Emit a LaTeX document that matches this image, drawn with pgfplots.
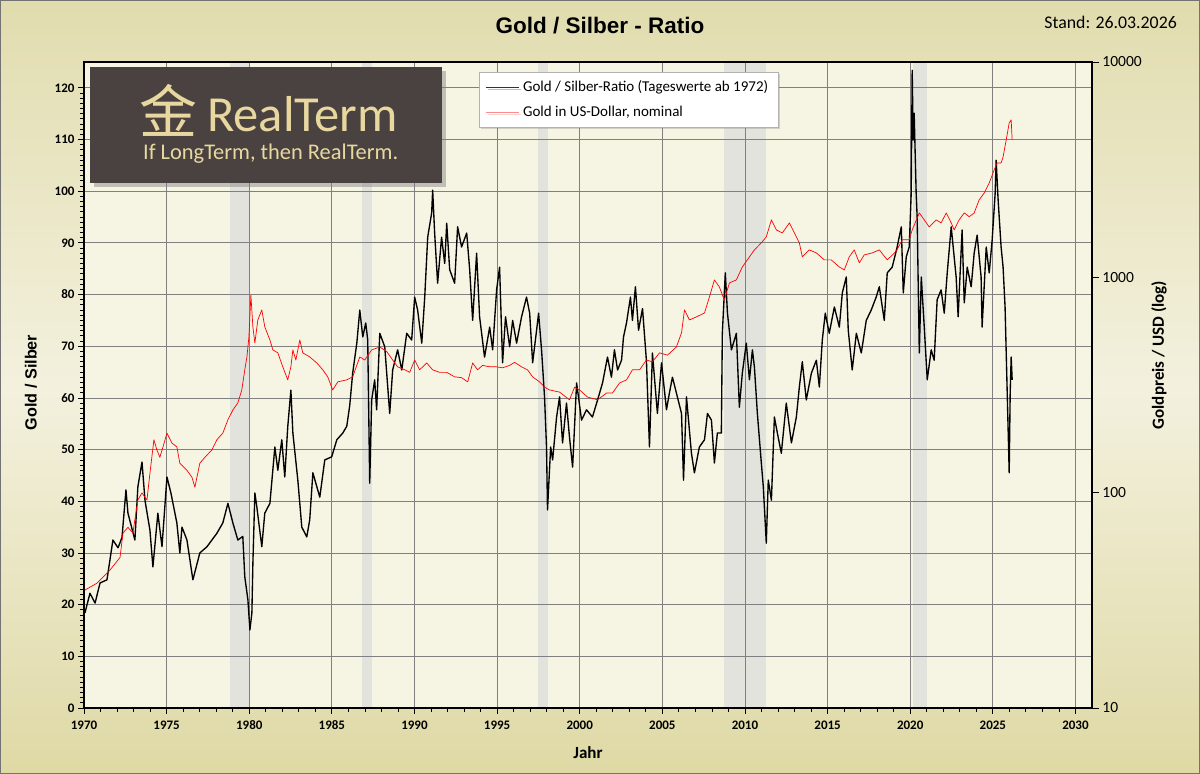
\documentclass[border=0pt]{standalone}
\usepackage{fontspec}
\setmainfont{Carlito}
\newfontfamily\arialf{Liberation Sans}
\newfontfamily\cjk{Noto Sans CJK SC}
\usepackage{pgfplots}
\pgfplotsset{compat=1.18}
\usepackage{pgfplotstable}
\usetikzlibrary{shadows}
\definecolor{bgtop}{HTML}{E1DCAE}
\definecolor{bgmid}{HTML}{F3F1DE}
\definecolor{bgbot}{HTML}{DFD9A5}
\definecolor{plotbg}{HTML}{F6F4E3}
\definecolor{bandcol}{HTML}{E1E3DC}
\definecolor{logobg}{HTML}{4A4240}
\definecolor{logogold}{HTML}{E8D8A0}

\pgfplotstableread{
year ratio
1970.06 18.4
1970.36 22.2
1970.67 20.3
1970.97 24.2
1971.39 24.8
1971.75 32.5
1972.06 31.0
1972.30 33.0
1972.54 42.2
1972.66 37.7
1973.08 32.5
1973.26 42.8
1973.51 47.6
1973.69 40.2
1973.99 34.4
1974.17 27.3
1974.47 37.7
1974.72 31.2
1975.02 44.7
1975.26 41.6
1975.62 35.8
1975.80 30.0
1975.93 35.0
1976.23 32.5
1976.59 24.8
1977.01 30.0
1977.44 31.2
1978.04 33.8
1978.40 35.8
1978.71 39.6
1979.01 35.8
1979.31 32.5
1979.61 33.2
1979.73 25.4
1979.92 20.9
1980.04 15.1
1980.16 18.4
1980.22 28.0
1980.34 41.6
1980.46 38.9
1980.76 31.2
1980.94 37.7
1981.25 39.6
1981.55 50.5
1981.73 46.0
1981.97 51.9
1982.15 44.7
1982.33 54.4
1982.52 61.5
1982.64 53.2
1982.94 44.1
1983.18 35.0
1983.48 33.1
1983.66 36.4
1983.85 45.5
1984.27 40.8
1984.57 48.0
1984.99 48.6
1985.30 51.9
1985.66 53.2
1985.90 54.5
1986.08 58.5
1986.26 64.8
1986.51 70.6
1986.69 77.0
1986.87 71.8
1987.05 74.5
1987.17 71.2
1987.29 43.5
1987.41 59.6
1987.59 63.5
1987.71 57.7
1987.90 72.5
1988.20 69.9
1988.50 57.0
1988.68 65.4
1988.98 69.3
1989.23 65.4
1989.53 72.5
1989.83 71.2
1990.01 79.5
1990.19 77.0
1990.44 70.6
1990.62 79.5
1990.80 91.1
1991.04 95.8
1991.10 100.2
1991.22 91.9
1991.40 82.2
1991.64 91.1
1991.83 86.0
1991.95 93.8
1992.13 84.8
1992.43 82.2
1992.61 93.1
1992.85 89.2
1993.16 91.9
1993.34 84.8
1993.52 75.0
1993.76 88.0
1993.94 75.7
1994.24 67.9
1994.55 73.7
1994.73 69.3
1994.97 80.9
1995.15 85.3
1995.33 66.8
1995.51 75.7
1995.76 69.9
1995.94 75.0
1996.18 70.6
1996.48 75.7
1996.78 79.5
1996.97 76.4
1997.15 66.8
1997.39 73.1
1997.51 76.4
1997.69 69.3
1997.87 60.2
1997.99 50.5
1998.05 38.3
1998.24 50.5
1998.36 48.0
1998.60 56.3
1998.78 60.2
1998.96 51.3
1999.20 59.0
1999.38 52.4
1999.57 46.6
1999.81 62.9
2000.11 55.7
2000.41 57.7
2000.77 56.3
2001.08 59.6
2001.38 62.9
2001.68 67.9
2001.92 64.0
2002.10 69.3
2002.29 65.4
2002.53 67.3
2002.65 71.8
2002.83 74.5
2003.07 79.5
2003.19 75.0
2003.37 81.5
2003.56 73.1
2003.80 77.3
2004.04 67.0
2004.22 50.5
2004.40 68.7
2004.70 57.0
2004.95 66.8
2005.25 57.7
2005.43 61.0
2005.61 64.0
2005.91 60.2
2006.16 57.0
2006.28 44.1
2006.46 60.2
2006.76 49.3
2006.94 45.5
2007.24 50.5
2007.55 51.9
2007.73 57.0
2007.97 55.7
2008.15 47.4
2008.33 53.2
2008.57 53.2
2008.63 72.5
2008.81 84.2
2008.94 76.4
2009.18 69.3
2009.48 72.5
2009.66 58.2
2009.84 64.8
2010.08 70.6
2010.27 63.5
2010.45 69.3
2010.57 66.0
2010.75 57.0
2010.99 47.4
2011.11 42.8
2011.29 31.9
2011.41 44.1
2011.60 40.2
2011.78 56.3
2011.96 53.2
2012.20 49.3
2012.50 59.0
2012.81 51.3
2013.11 56.3
2013.29 62.1
2013.47 67.0
2013.71 59.6
2014.02 64.8
2014.32 67.3
2014.50 62.1
2014.68 71.2
2014.86 76.4
2015.10 72.5
2015.41 77.6
2015.71 73.7
2015.89 80.3
2016.13 83.4
2016.25 73.1
2016.49 65.4
2016.74 72.5
2017.04 68.7
2017.34 75.0
2017.64 77.0
2017.94 79.5
2018.13 81.5
2018.43 75.0
2018.61 84.2
2018.91 85.3
2019.21 89.2
2019.46 93.1
2019.58 80.3
2019.76 87.3
2019.94 89.2
2020.06 99.6
2020.12 123.4
2020.18 109.9
2020.24 115.1
2020.36 99.6
2020.42 95.0
2020.55 68.7
2020.67 83.4
2020.85 73.7
2021.03 63.5
2021.27 69.3
2021.45 67.3
2021.63 79.0
2021.87 80.9
2022.06 76.4
2022.24 84.2
2022.48 93.1
2022.60 89.2
2022.78 83.4
2022.90 75.7
2023.14 92.5
2023.27 78.4
2023.45 85.3
2023.69 81.5
2023.87 88.0
2024.05 91.5
2024.29 83.4
2024.35 73.7
2024.60 89.2
2024.78 84.2
2024.96 90.6
2025.14 99.6
2025.20 106.0
2025.32 98.3
2025.50 89.2
2025.62 85.3
2025.74 77.6
2025.87 61.0
2025.99 45.5
2026.05 61.0
2026.11 67.9
2026.17 63.5
}\ratiodata

\pgfplotstableread{
year gold
1970.06 35.3
1970.79 38
1971.57 43.7
1972.18 50
1972.36 65
1972.66 69
1972.96 65
1973.26 92.5
1973.51 99.7
1973.81 92.5
1973.99 123
1974.23 176
1974.41 158
1974.59 146
1974.78 163
1975.02 189
1975.32 170
1975.62 163
1975.80 137
1976.23 127
1976.53 118
1976.71 106
1977.01 137
1977.32 146
1977.74 158
1978.04 176
1978.40 189
1978.71 218
1979.01 242
1979.31 261
1979.55 300
1979.73 372
1979.86 427
1979.98 528
1980.10 828
1980.22 589
1980.34 496
1980.52 634
1980.76 706
1980.94 589
1981.25 512
1981.43 460
1981.73 446
1982.03 384
1982.33 334
1982.52 384
1982.64 460
1982.82 413
1983.06 512
1983.24 446
1983.66 427
1984.09 400
1984.45 372
1984.75 345
1985.05 300
1985.36 327
1985.90 334
1986.26 345
1986.69 427
1986.99 413
1987.41 460
1987.90 475
1988.32 452
1988.68 413
1988.98 384
1989.41 372
1989.71 362
1990.01 413
1990.31 372
1990.74 400
1991.10 372
1991.52 362
1991.95 362
1992.43 345
1992.85 342
1993.22 327
1993.52 400
1993.82 372
1994.12 390
1994.55 384
1994.97 384
1995.33 380
1995.76 390
1996.06 403
1996.48 384
1996.84 372
1997.15 345
1997.57 327
1997.87 309
1998.17 300
1998.78 293
1999.38 270
1999.69 309
1999.99 300
2000.47 278
2001.08 270
2001.62 290
2001.98 290
2002.41 323
2002.83 334
2003.19 372
2003.62 372
2004.04 413
2004.40 405
2004.83 446
2005.31 435
2005.85 475
2006.16 552
2006.34 706
2006.64 634
2007.06 655
2007.55 683
2007.85 811
2008.15 973
2008.45 902
2008.75 785
2009.06 942
2009.48 973
2009.84 1117
2010.27 1244
2010.57 1341
2010.99 1445
2011.29 1541
2011.60 1849
2011.90 1660
2012.26 1607
2012.69 1790
2012.99 1607
2013.29 1445
2013.47 1244
2013.89 1341
2014.32 1298
2014.80 1205
2015.22 1205
2015.71 1117
2016.01 1082
2016.31 1244
2016.61 1341
2016.92 1167
2017.22 1271
2017.70 1298
2018.13 1341
2018.61 1205
2019.15 1320
2019.52 1493
2019.94 1493
2020.12 1660
2020.55 1991
2020.85 1849
2021.15 1714
2021.57 1849
2021.87 1790
2022.18 1991
2022.48 1790
2022.66 1660
2022.96 1849
2023.27 1991
2023.57 1913
2023.87 1991
2024.17 2287
2024.48 2466
2024.78 2743
2025.08 3153
2025.26 3398
2025.50 3398
2025.62 3623
2025.81 4349
2025.99 5212
2026.11 5383
2026.17 4349
}\golddata

\pgfplotsset{
  common/.style={at={(84bp,66bp)}, anchor=south west, scale only axis,
    width=1008bp, height=646bp, xmin=1970, xmax=2031},
}

\begin{document}
\begin{tikzpicture}[x=1bp,y=1bp]
\useasboundingbox (0,0) rectangle (1200,774);
\shade[top color=bgtop, bottom color=bgbot, middle color=bgmid] (0,0) rectangle (1200,774);
\draw[black!55, line width=1.2bp] (0.6,0.6) rectangle (1199.4,773.4);
\fill[plotbg] (84,66) rectangle (1092,712);

% recession bands
\begin{axis}[common, ymin=0, ymax=125, hide axis]
\addplot[fill=bandcol, draw=none] coordinates {(1978.83,125) (1980.04,125)} \closedcycle;
\addplot[fill=bandcol, draw=none] coordinates {(1986.80,125) (1987.40,125)} \closedcycle;
\addplot[fill=bandcol, draw=none] coordinates {(1997.45,125) (1998.05,125)} \closedcycle;
\addplot[fill=bandcol, draw=none] coordinates {(2008.75,125) (2011.29,125)} \closedcycle;
\addplot[fill=bandcol, draw=none] coordinates {(2020.15,125) (2021.00,125)} \closedcycle;
\end{axis}

% ratio axis
\begin{axis}[common, ymin=0, ymax=125,
  xtick={1970,1975,...,2030}, minor x tick num=4,
  ytick={0,10,...,120}, minor y tick num=9,
  xtick pos=left, ytick pos=left, tick align=outside,
  major tick length=6bp, minor tick length=4bp,
  tick style={black, line width=0.8bp},
  grid=major, major grid style={draw=black!50, line width=0.8bp},
  axis line style={line width=1.6bp},
  /pgf/number format/1000 sep={},
  /pgf/number format/assume math mode=true,
  xticklabel style={font=\bfseries\fontsize{13bp}{15bp}\selectfont, yshift=-3bp},
  yticklabel style={font=\bfseries\fontsize{13bp}{15bp}\selectfont},
]
\addplot[black, line width=1.35bp, line join=round] table[x=year, y=ratio]{\ratiodata};
\end{axis}

% gold axis
\begin{axis}[common, ymode=log, ymin=10, ymax=10000,
  axis x line=none, axis y line*=right,
  ytick={10,100,1000,10000}, yticklabels={10,100,1000,10000},
  yminorticks=false, tick align=outside, major tick length=7bp,
  tick style={black, line width=0.8bp},
  axis line style={line width=1.6bp},
  yticklabel style={font=\fontsize{15.5bp}{18bp}\selectfont},
  legend cell align=left,
  legend image code/.code={\draw[#1] (0bp,0bp) -- (33bp,0bp);},
  legend style={at={(0.392,0.985)}, anchor=north west, draw=black!30, fill=white,
    drop shadow={shadow xshift=2bp, shadow yshift=-2bp, opacity=0.3},
    font=\fontsize{15bp}{18bp}\selectfont, row sep=9bp, inner xsep=6bp, inner ysep=7bp,
    nodes={inner xsep=4bp}},
]
\addlegendimage{black!80, line width=0.8bp}
\addlegendentry{Gold / Silber-Ratio (Tageswerte ab 1972)}
\addlegendimage{red!45, line width=0.8bp}
\addlegendentry{Gold in US-Dollar, nominal}
\addplot[red, line width=0.7bp, line join=round, forget plot] table[x=year, y=gold]{\golddata};
\end{axis}

% logo
\fill[logobg, drop shadow={shadow xshift=4bp, shadow yshift=-4bp, opacity=0.45}] (90,591) rectangle (442,707);
\node[anchor=center, text=logogold, inner sep=0] at (168,664) {\cjk\fontsize{58bp}{60bp}\selectfont 金};
\node[anchor=base west, text=logogold, inner sep=0] at (207,642) {\fontsize{50.5bp}{54bp}\selectfont RealTerm};
\node[anchor=base west, text=logogold, inner sep=0] at (143,614) {\fontsize{22.4bp}{25bp}\selectfont If LongTerm, then RealTerm.};

% titles and labels
\node[anchor=center] at (600,748) {\arialf\bfseries\fontsize{22.5bp}{26bp}\selectfont Gold / Silber - Ratio};
\node[anchor=base east, inner sep=0] at (1177,745) {\fontsize{17.8bp}{20bp}\selectfont Stand: 26.03.2026};
\node[anchor=center] at (588,21) {\bfseries\fontsize{17bp}{20bp}\selectfont Jahr};
\node[anchor=center, rotate=90] at (31,391.5) {\arialf\bfseries\fontsize{16.2bp}{19bp}\selectfont Gold / Silber};
\node[anchor=center, rotate=90] at (1159,419) {\bfseries\fontsize{17bp}{20bp}\selectfont Goldpreis / USD (log)};
\end{tikzpicture}
\end{document}
